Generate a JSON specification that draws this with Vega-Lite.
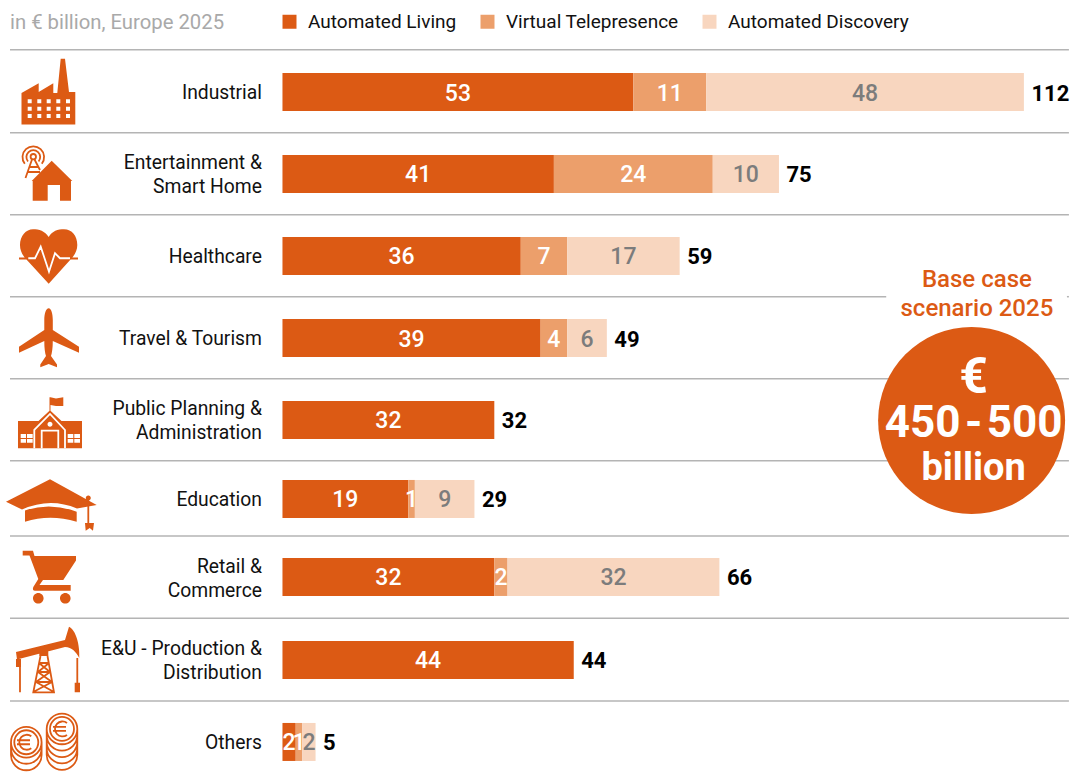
{
"$schema":"https://vega.github.io/schema/vega-lite/v6.json",
"width":1076,"height":774,
"autosize":{"type":"fit","contains":"padding"},
"padding":0,
"background":"white",
"config":{"view":{"stroke":null},"font":"Roboto"},
"datasets":{
"bars":[
{"pos":1.136,"category":"Industrial","series":"Automated Living","rank":1,"value":53,"mid":26.5},
{"pos":1.136,"category":"Industrial","series":"Virtual Telepresence","rank":2,"value":11,"mid":58.5},
{"pos":1.136,"category":"Industrial","series":"Automated Discovery","rank":3,"value":48,"mid":88},
{"pos":2.148,"category":"Entertainment & Smart Home","series":"Automated Living","rank":1,"value":41,"mid":20.5},
{"pos":2.148,"category":"Entertainment & Smart Home","series":"Virtual Telepresence","rank":2,"value":24,"mid":53},
{"pos":2.148,"category":"Entertainment & Smart Home","series":"Automated Discovery","rank":3,"value":10,"mid":70},
{"pos":3.16,"category":"Healthcare","series":"Automated Living","rank":1,"value":36,"mid":18},
{"pos":3.16,"category":"Healthcare","series":"Virtual Telepresence","rank":2,"value":7,"mid":39.5},
{"pos":3.16,"category":"Healthcare","series":"Automated Discovery","rank":3,"value":17,"mid":51.5},
{"pos":4.173,"category":"Travel & Tourism","series":"Automated Living","rank":1,"value":39,"mid":19.5},
{"pos":4.173,"category":"Travel & Tourism","series":"Virtual Telepresence","rank":2,"value":4,"mid":41},
{"pos":4.173,"category":"Travel & Tourism","series":"Automated Discovery","rank":3,"value":6,"mid":46},
{"pos":5.185,"category":"Public Planning & Administration","series":"Automated Living","rank":1,"value":32,"mid":16},
{"pos":6.16,"category":"Education","series":"Automated Living","rank":1,"value":19,"mid":9.5},
{"pos":6.16,"category":"Education","series":"Virtual Telepresence","rank":2,"value":1,"mid":19.5},
{"pos":6.16,"category":"Education","series":"Automated Discovery","rank":3,"value":9,"mid":24.5},
{"pos":7.123,"category":"Retail & Commerce","series":"Automated Living","rank":1,"value":32,"mid":16},
{"pos":7.123,"category":"Retail & Commerce","series":"Virtual Telepresence","rank":2,"value":2,"mid":33},
{"pos":7.123,"category":"Retail & Commerce","series":"Automated Discovery","rank":3,"value":32,"mid":50},
{"pos":8.148,"category":"E&U - Production & Distribution","series":"Automated Living","rank":1,"value":44,"mid":22},
{"pos":9.16,"category":"Others","series":"Automated Living","rank":1,"value":2,"mid":1},
{"pos":9.16,"category":"Others","series":"Virtual Telepresence","rank":2,"value":1,"mid":2.5},
{"pos":9.16,"category":"Others","series":"Automated Discovery","rank":3,"value":2,"mid":4}
],
"rows":[
{"pos":1.136,"total":112,"end":112},
{"pos":2.148,"total":75,"end":75},
{"pos":3.16,"total":59,"end":60},
{"pos":4.173,"total":49,"end":49},
{"pos":5.185,"total":32,"end":32},
{"pos":6.16,"total":29,"end":29},
{"pos":7.123,"total":66,"end":66},
{"pos":8.148,"total":44,"end":44},
{"pos":9.16,"total":5,"end":5}
],
"lines":[
{"pos":1.136,"label":"Industrial"},
{"pos":2.0,"label":"Entertainment &"},
{"pos":2.296,"label":"Smart Home"},
{"pos":3.16,"label":"Healthcare"},
{"pos":4.173,"label":"Travel & Tourism"},
{"pos":5.037,"label":"Public Planning &"},
{"pos":5.333,"label":"Administration"},
{"pos":6.16,"label":"Education"},
{"pos":6.988,"label":"Retail &"},
{"pos":7.284,"label":"Commerce"},
{"pos":8.0,"label":"E&U - Production &"},
{"pos":8.296,"label":"Distribution"},
{"pos":9.16,"label":"Others"}
],
"seps":[
{"pos":0.613,"a":-41.16,"b":118.8},
{"pos":1.638,"a":-41.16,"b":118.8},
{"pos":2.651,"a":-41.16,"b":118.8},
{"pos":3.663,"a":-41.16,"b":91.2},
{"pos":3.663,"a":118.5,"b":118.8},
{"pos":4.675,"a":-41.16,"b":118.8},
{"pos":5.688,"a":-41.16,"b":118.8},
{"pos":6.617,"a":-41.16,"b":118.8},
{"pos":7.633,"a":-41.16,"b":118.8},
{"pos":8.654,"a":-41.16,"b":118.8}
],
"icons":[
{"part":"factory","pos":1.136},
{"part":"home","pos":2.148},
{"part":"heart","pos":3.16},
{"part":"plane","pos":4.173},
{"part":"school","pos":5.185},
{"part":"cap","pos":6.16},
{"part":"cart","pos":7.136},
{"part":"pump","pos":8.148}
]
},
"layer":[
{"data":{"name":"seps"},"mark":{"type":"rule","stroke":"#b4b4b4","strokeWidth":1.5},
"encoding":{"x":{"field":"a","type":"quantitative","axis":null,"scale":{"domain":[-42.67,119.87],"nice":false,"zero":false,"padding":0}},"x2":{"field":"b"},
"y":{"field":"pos","type":"quantitative","axis":null,"scale":{"domain":[0,9.5556],"reverse":true,"nice":false,"zero":false,"padding":0}}}},
{"data":{"name":"bars"},"mark":{"type":"bar","orient":"horizontal","size":38},
"encoding":{"x":{"field":"value","type":"quantitative","stack":"zero","axis":null},
"y":{"field":"pos","type":"quantitative","axis":null},
"color":{"field":"series","type":"nominal","scale":{"domain":["Automated Living","Virtual Telepresence","Automated Discovery"],"range":["#DC5A14","#EC9F6B","#F8D6BF"]},
"legend":{"orient":"none","legendX":280,"legendY":12,"title":null,"direction":"horizontal","columns":3,"symbolType":"square","symbolSize":196,"symbolStrokeWidth":0,"labelFontSize":19,"labelFont":"Roboto","labelColor":"#111","labelOffset":9,"labelLimit":400,"columnPadding":21,"padding":0}},
"order":{"field":"rank","type":"quantitative"}}},
{"data":{"name":"bars"},"mark":{"type":"text","fontSize":23,"fontWeight":500,"baseline":"middle","align":"center","dy":1.5},
"encoding":{"x":{"field":"mid","type":"quantitative","stack":null},"y":{"field":"pos","type":"quantitative"},"text":{"field":"value","type":"quantitative"},
"color":{"condition":{"test":"datum.rank==3","value":"#7c7c7c"},"value":"#ffffff"}}},
{"data":{"name":"rows"},"mark":{"type":"text","fontSize":22,"fontWeight":700,"baseline":"middle","align":"left","dx":7.5,"dy":1.5,"color":"#000000"},
"encoding":{"x":{"field":"end","type":"quantitative"},"y":{"field":"pos","type":"quantitative"},"text":{"field":"total","type":"quantitative"}}},
{"data":{"name":"lines"},"mark":{"type":"text","fontSize":19.3,"baseline":"middle","align":"right","dy":1,"color":"#111111"},
"encoding":{"x":{"datum":-3.1,"type":"quantitative"},"y":{"field":"pos","type":"quantitative"},"text":{"field":"label","type":"nominal"}}},
{"data":{"values":[{"t":"in € billion, Europe 2025","x":-41.16,"pos":0.272}]},"mark":{"type":"text","fontSize":20.3,"baseline":"middle","align":"left","dy":1,"color":"#a9a9a9"},
"encoding":{"x":{"field":"x","type":"quantitative"},"y":{"field":"pos","type":"quantitative"},"text":{"field":"t"}}},
{"data":{"name":"icons"},"mark":{"type":"point","filled":true,"fill":"#DC5A14","opacity":1,"size":4},
"encoding":{"x":{"datum":-35.42,"type":"quantitative"},"y":{"field":"pos","type":"quantitative"},
"shape":{"field":"part","type":"nominal","legend":null,"scale":{"domain":["factory","home","heart","plane","school","cap","cart","pump"],"range":[
"M-26.5 32.5V1L-9.3 -8.7V0L5.3 -8.7V1H9.3L12.7 -33.3H17L21 0H27.3V32.5ZM-20.3 7.3V11.3H-16.3V7.3ZM-10.7 7.3V11.3H-6.7V7.3ZM-1.3 7.3V11.3H2.7V7.3ZM8.3 7.3V11.3H12.3V7.3ZM18 7.3V11.3H22V7.3ZM-20.3 14.7V18.7H-16.3V14.7ZM-10.7 14.7V18.7H-6.7V14.7ZM-1.3 14.7V18.7H2.7V14.7ZM8.3 14.7V18.7H12.3V14.7ZM18 14.7V18.7H22V14.7ZM-20.3 22V26H-16.3V22ZM-10.7 22V26H-6.7V22ZM-1.3 22V26H2.7V22ZM8.3 22V26H12.3V22ZM18 22V26H22V22Z",
"M3.7 -13.3L24.3 7H23V26.7H12V11H-0.3V26.7H-15.3V7H-16.3Z",
"M0.7 -19C4 -25 10 -26.7 16 -26.7C24 -26.7 29.3 -20 29.3 -11C29.3 -5 26 0 23 3L0.7 27.7L-22 3C-25 0 -28 -5 -28 -11C-28 -20 -22 -26.7 -15 -26.7C-9 -26.7 -3 -25 0.7 -19ZM-29 1.5H30V3.5H-29Z",
"M0.7 -29.7C3.2 -29.7 4.8 -24 4.8 -18V-8L31 8.7V14.7L4.8 3C4.8 10 4 15 3 18L9 26.5V29.3L0.7 26L-7.7 29.3V26.5L-2 18C-3 15 -3.7 10 -3.7 3L-29 14.7V8.7L-3.7 -8V-18C-3.7 -24 -2 -29.7 0.7 -29.7Z",
"M-30 1H-9.5L1.5 -9.3V-22.7H2.5L8 -21.5L15.3 -22.7V-14L8 -14L2.5 -15V-9.3L13.5 1H34V28.3H-30ZM-27.3 14V18H-22V14ZM-21 14V18H-15.3V14ZM-27.3 19V22.7H-22V19ZM-21 19V22.7H-15.3V19ZM19.7 14V18H25.3V14ZM26.3 14V18H32V14ZM19.7 19V22.7H25.3V19ZM26.3 19V22.7H32V19ZM-0.5 4.3A2.5 2.5 0 1 0 4.5 4.3A2.5 2.5 0 1 0 -0.5 4.3Z",
"M-42 2.7L2 -19.7L48.7 6L29 9.5Q2 -2 -26 10.5ZM-23 11.5Q2 3 28.7 12.7V22.7Q2 15 -23 22.7ZM37 24H46L45 31.7L41.7 29L37.7 31.7ZM37.8 -1A2.5 2.5 0 1 1 42.8 -1A2.5 2.5 0 1 1 37.8 -1Z",
"M-25.3 -27.3H-15L-13.5 -22H28V-17.5L15.3 2H-5L-8.5 7H22.7V12.7H-13Q-16 12.7 -14.7 9L-9.7 1L-18.5 -22.5H-25.3ZM-15 20.3A5.3 5.3 0 1 1 -4.4 20.3A5.3 5.3 0 1 1 -15 20.3ZM12 20.3A5.3 5.3 0 1 1 22.6 20.3A5.3 5.3 0 1 1 12 20.3Z",
"M-32 -8L17 -20V-13L-31 -0.5ZM21 -33.3L17 -20V-13C24 -13 28 -8 31.3 -2C32 -15 28 -30 21 -33.3ZM-8.7 -10H0.3V-4H-8.7ZM26.7 22.7H32V32.3H26.7ZM-32 -1H-27V7H-32Z"
]}}}},
{"data":{"values":[{"part":"antenna","pos":2.148},{"part":"capline","pos":6.16},{"part":"derrick","pos":8.148},{"part":"coins","pos":9.16}]},"mark":{"type":"point","filled":false,"stroke":"#DC5A14","strokeWidth":1.8,"opacity":1,"size":4},
"encoding":{"x":{"datum":-35.42,"type":"quantitative"},"y":{"field":"pos","type":"quantitative"},
"shape":{"field":"part","type":"nominal","legend":null,"scale":{"domain":["antenna","capline","derrick","coins"],"range":[
"M-23.2 -10.2A10.8 10.8 0 1 1 -6.2 -10.2M-20 -12.5A6.9 6.9 0 1 1 -9.4 -12.5M-12 -17.3A2.7 2.7 0 1 0 -17.4 -17.3A2.7 2.7 0 1 0 -12 -17.3M-16 -14.5L-22.5 4M-13.5 -14.5L-8 -4M-18 -7H-10.5M-19.5 -2H-8",
"M40.3 -3V26",
"M-7.5 -4L-14.7 32.3H6L-0.5 -4M-9 3H1M-10 12H2M-12 22H4M-9 3L2 12M1 3L-10 12M-10 12L4 22M2 12L-12 22M-12 22L6 32M4 22L-14.7 32M-28 7V32.3M29.3 -2V23",
"M-37 0.3A15.3 15.3 0 1 1 -6.4 0.3A15.3 15.3 0 1 1 -37 0.3M-37 0.3V13M-6.4 0.3V13M-37 6.5A15.3 15.3 0 0 0 -6.4 6.5M-37 13A15.3 15.3 0 0 0 -6.4 13M-33.7 0.3A12 12 0 1 1 -9.7 0.3A12 12 0 1 1 -33.7 0.3M-16.7 -5.7A7.5 7.5 0 1 0 -16.7 6.3M-31 -1.7H-18M-31 2.3H-18M-1.3 -13A15.3 15.3 0 1 1 29.3 -13A15.3 15.3 0 1 1 -1.3 -13M-1.3 -13V12.7M29.3 -13V12.7M-1.3 -6.6A15.3 15.3 0 0 0 29.3 -6.6M-1.3 -0.2A15.3 15.3 0 0 0 29.3 -0.2M-1.3 6.2A15.3 15.3 0 0 0 29.3 6.2M-1.3 12.7A15.3 15.3 0 0 0 29.3 12.7M2 -13A12 12 0 1 1 26 -13A12 12 0 1 1 2 -13M19 -19A7.5 7.5 0 1 0 19 -7M5 -15H18M5 -11H18"
]}}}},
{"data":{"values":[{"part":"ecg","pos":3.16},{"part":"schoollines","pos":5.185}]},"mark":{"type":"point","filled":false,"stroke":"#ffffff","strokeWidth":1.8,"opacity":1,"size":4},
"encoding":{"x":{"datum":-35.42,"type":"quantitative"},"y":{"field":"pos","type":"quantitative"},
"shape":{"field":"part","type":"nominal","legend":null,"scale":{"domain":["ecg","schoollines"],"range":[
"M-19.7 2.3H-13L-7.3 -9.3L1 15.7L7 -2.7L12 2.3H22",
"M-13.7 28.3V10L2 -6L17 10V28.3M-6.3 28.3V10.7H10.3V28.3"
]}}}},
{"data":{"values":[{"x":104.1,"pos":5.191}]},"mark":{"type":"point","filled":true,"fill":"#DC5A14","opacity":1,"size":34969,"shape":"circle"},
"encoding":{"x":{"field":"x","type":"quantitative"},"y":{"field":"pos","type":"quantitative"}}},
{"data":{"values":[{"t":"Base case","x":104.9,"pos":3.444},{"t":"scenario 2025","x":104.9,"pos":3.8}]},"mark":{"type":"text","fontSize":24,"fontWeight":500,"baseline":"middle","align":"center","dy":1,"color":"#DC5A14"},
"encoding":{"x":{"field":"x","type":"quantitative"},"y":{"field":"pos","type":"quantitative"},"text":{"field":"t"}}},
{"data":{"values":[{"t":"€","x":104.4,"pos":4.655,"s":"a"},{"t":"450\u200a-\u200a500","x":104.4,"pos":5.225,"s":"b"},{"t":"billion","x":104.4,"pos":5.78,"s":"c"}]},"mark":{"type":"text","fontWeight":700,"baseline":"middle","align":"center","dy":1,"color":"#ffffff"},
"encoding":{"x":{"field":"x","type":"quantitative"},"y":{"field":"pos","type":"quantitative"},"text":{"field":"t"},
"size":{"field":"s","type":"nominal","legend":null,"scale":{"domain":["a","b","c"],"range":[50,38,32]}}}}
],
"resolve":{"scale":{"shape":"independent","size":"independent"}}
}
